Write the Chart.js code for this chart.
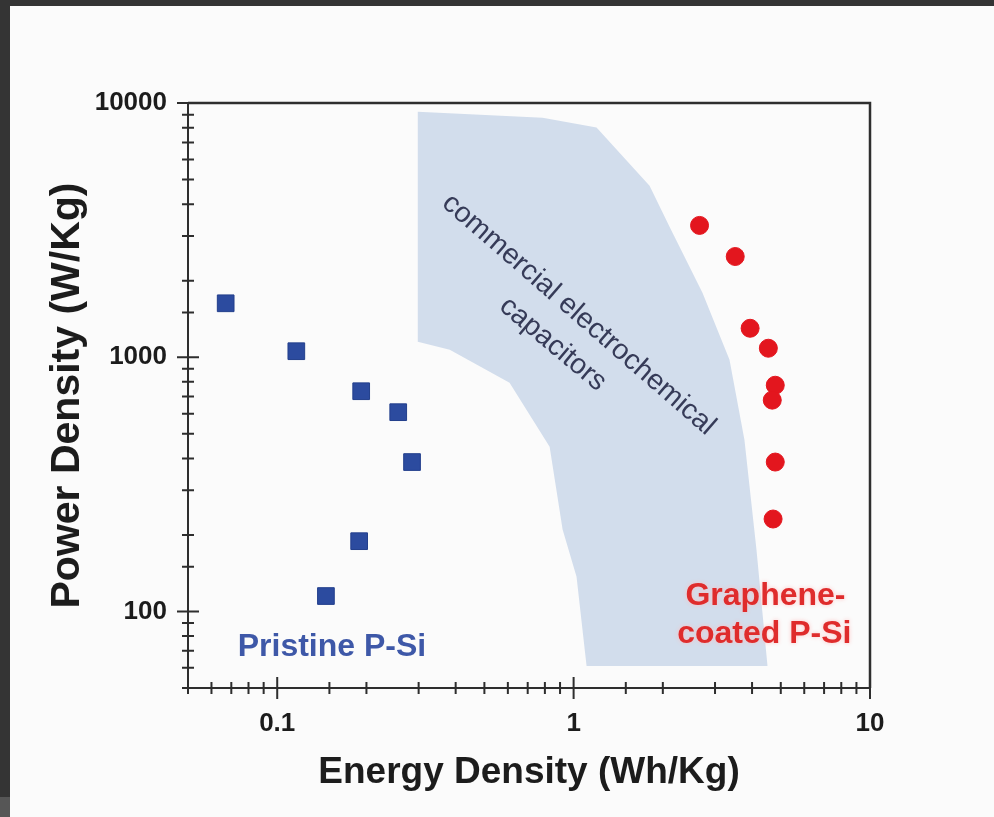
<!DOCTYPE html>
<html><head><meta charset="utf-8">
<script src="https://cdn.jsdelivr.net/npm/chart.js@4.4.1/dist/chart.umd.min.js"></script>
<style>
html,body{margin:0;padding:0;background:#343434;width:994px;height:817px;overflow:hidden;}
#wrap{position:absolute;left:10px;top:6px;width:984px;height:811px;background:#fbfbfb;}
#patch{position:absolute;left:0;top:797px;width:10px;height:20px;background:#565656;}
canvas{display:block;}
</style></head><body>
<div id="wrap"><canvas id="c" width="984" height="811"></canvas></div>
<div id="patch"></div>
<script>
// ---- data ----
const pristineEnergy = [0.067, 0.116, 0.192, 0.256, 0.285, 0.189, 0.146];
const pristinePower  = [1630, 1056, 735, 608, 387, 189, 115];
const grapheneEnergy = [2.66, 3.51, 3.94, 4.54, 4.79, 4.68, 4.79, 4.71];
const graphenePower  = [3300, 2490, 1300, 1085, 776, 678, 387, 231];
// commercial electrochemical capacitor region (outline)
const regionEnergy = [0.298, 0.786, 1.195, 1.804, 2.107, 2.721, 3.357, 3.77, 4.14, 4.51, 1.106, 1.023, 0.918, 0.83, 0.608, 0.382, 0.298];
const regionPower  = [9243, 8753, 8001, 4728, 3262, 1794, 977, 474, 175, 61, 61, 137, 210, 445, 794, 1070, 1151];
const xTickLabels = ['0.1', '1', '10'];
const yTickLabels = ['100', '1000', '10000'];
const xRange = [0.05, 10];
const yRange = [50, 10000];

const FONT = "'Liberation Sans', Arial, Helvetica, sans-serif";
const toPts = (xs, ys) => xs.map((x, i) => ({x, y: ys[i]}));
const isDecade = v => Math.abs(Math.log10(v) - Math.round(Math.log10(v))) < 1e-6;
function labelFor(v, list) {
  for (const l of list) { if (Math.abs(parseFloat(l) - v) / v < 1e-6) return l; }
  return '';
}

const decor = {
  id: 'decor',
  afterDatasetsDraw(chart) {
    const {ctx, chartArea: a, scales: {x, y}} = chart;
    ctx.save();
    ctx.strokeStyle = '#2e2e2e';
    ctx.lineWidth = 2.5;
    ctx.beginPath();
    ctx.moveTo(a.left, a.top); ctx.lineTo(a.right, a.top); ctx.lineTo(a.right, a.bottom);
    ctx.stroke();
    ctx.lineWidth = 2;
    ctx.beginPath();
    x.ticks.forEach(t => {
      const p = x.getPixelForValue(t.value);
      const h = isDecade(t.value) ? 11 : 6;
      ctx.moveTo(p, a.bottom - h); ctx.lineTo(p, a.bottom + h);
    });
    y.ticks.forEach(t => {
      const p = y.getPixelForValue(t.value);
      const h = isDecade(t.value) ? 11 : 6;
      ctx.moveTo(a.left - h, p); ctx.lineTo(a.left + h, p);
    });
    ctx.stroke();

    const P = (ex, py) => [x.getPixelForValue(ex), y.getPixelForValue(py)];
    // region label
    ctx.fillStyle = '#363b58';
    ctx.font = '28.5px ' + FONT;
    ctx.textAlign = 'center'; ctx.textBaseline = 'middle';
    [[1.04, 1470, 'commercial electrochemical', 41], [0.85, 1125, 'capacitors', 40]].forEach(([ex, py, s, ang]) => {
      const [px, pyy] = P(ex, py);
      ctx.save(); ctx.translate(px, pyy); ctx.rotate(ang * Math.PI / 180);
      ctx.fillText(s, 0, 0); ctx.restore();
    });
    // series labels
    ctx.font = 'bold 32px ' + FONT;
    ctx.fillStyle = '#3e58a8';
    let [px, pyy] = P(0.153, 72.6);
    ctx.fillText('Pristine P-Si', px, pyy);
    ctx.fillStyle = '#df2c2c';
    ctx.shadowColor = 'rgba(255,190,190,0.9)';
    ctx.shadowBlur = 4;
    [px, pyy] = P(4.44, 115.3); ctx.fillText('Graphene-', px, pyy);
    [px, pyy] = P(4.40, 81.7); ctx.fillText('coated P-Si', px, pyy);
    ctx.restore();
  }
};

new Chart(document.getElementById('c'), {
  type: 'scatter',
  data: {
    datasets: [
      {
        type: 'line',
        label: 'commercial electrochemical capacitors',
        data: toPts(regionEnergy, regionPower),
        showLine: true,
        fill: 'shape',
        backgroundColor: 'rgb(210,221,236)',
        borderWidth: 0,
        borderColor: 'rgba(0,0,0,0)',
        pointRadius: 0,
        tension: 0,
        order: 3
      },
      {
        label: 'Pristine P-Si',
        data: toPts(pristineEnergy, pristinePower),
        pointStyle: 'rect',
        pointRadius: 11.8,
        backgroundColor: '#2c4b9f',
        borderColor: '#233f8c',
        borderWidth: 1,
        order: 1
      },
      {
        label: 'Graphene-coated P-Si',
        data: toPts(grapheneEnergy, graphenePower),
        pointStyle: 'circle',
        pointRadius: 9,
        backgroundColor: '#e3161e',
        borderColor: '#e3161e',
        borderWidth: 1,
        order: 1
      }
    ]
  },
  options: {
    responsive: false,
    animation: false,
    devicePixelRatio: 1,
    layout: {padding: {top: 97, right: 124, bottom: 0, left: 0}},
    plugins: {legend: {display: false}, tooltip: {enabled: false}},
    scales: {
      x: {
        type: 'logarithmic', position: 'bottom',
        min: xRange[0], max: xRange[1],
        grid: {display: false, drawTicks: false},
        border: {display: true, color: '#2e2e2e', width: 2},
        ticks: {
          autoSkip: false, maxRotation: 0, minRotation: 0, padding: 20,
          color: '#1c1c1c', font: {family: FONT, size: 26, weight: 'bold'},
          callback: v => labelFor(v, xTickLabels)
        },
        title: {display: true, text: 'Energy Density (Wh/Kg)', color: '#1c1c1c',
          font: {family: FONT, size: 37, weight: 'bold'}, padding: {top: 0, bottom: 22}},
        afterFit: s => { s.height = 129; }
      },
      y: {
        type: 'logarithmic', position: 'left',
        min: yRange[0], max: yRange[1],
        grid: {display: false, drawTicks: false},
        border: {display: true, color: '#2e2e2e', width: 2},
        ticks: {
          autoSkip: false, padding: 21,
          color: '#1c1c1c', font: {family: FONT, size: 26, weight: 'bold'},
          callback: v => labelFor(v, yTickLabels)
        },
        title: {display: true, text: 'Power Density (W/Kg)', color: '#1c1c1c',
          font: {family: FONT, size: 41, weight: 'bold'}, padding: {top: 33, bottom: 0}},
        afterFit: s => { s.width = 178; }
      }
    }
  },
  plugins: [decor]
});
</script>
</body></html>
